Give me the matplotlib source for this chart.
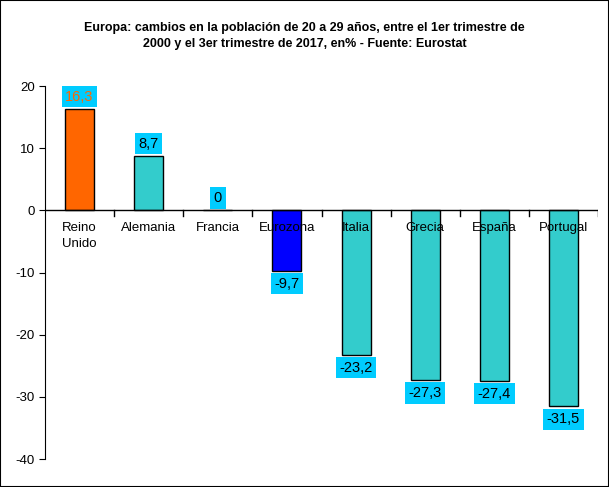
import matplotlib.pyplot as plt
import matplotlib.patches as mpatches

plt.rcParams["font.family"] = "Liberation Sans"
plt.rcParams["axes.unicode_minus"] = False

categories = ["Reino\nUnido", "Alemania", "Francia", "Eurozona", "Italia", "Grecia", "España", "Portugal"]
values = [16.3, 8.7, 0.0, -9.7, -23.2, -27.3, -27.4, -31.5]
labels = ["16,3", "8,7", "0", "-9,7", "-23,2", "-27,3", "-27,4", "-31,5"]
colors = ["#FF6600", "#33CCCC", "#33CCCC", "#0000FF", "#33CCCC", "#33CCCC", "#33CCCC", "#33CCCC"]
label_colors = ["#FF6600", "black", "black", "black", "black", "black", "black", "black"]

fig = plt.figure(figsize=(6.09, 4.87), dpi=100)
fig.patches.append(mpatches.Rectangle((0, 0), 1, 1, transform=fig.transFigure,
                                      fill=False, edgecolor="black", linewidth=1.5))
ax = fig.add_axes([45/609, 1-459/487, 553/609, 373/487])
x = list(range(len(values)))
ax.bar(x, values, width=0.42, color=colors, edgecolor="black", linewidth=1)
ax.set_xlim(-0.5, len(values)-0.5)
ax.set_ylim(-40, 20)
ax.set_yticks(range(-40, 21, 10))
ax.tick_params(axis="y", labelsize=9.5, direction="out", length=4)
for s in ["top", "right", "bottom"]:
    ax.spines[s].set_visible(False)
ax.axhline(0, color="black", linewidth=1)
ax.set_xticks([])
for b in range(1, len(values)+1):
    ax.plot([b-0.5, b-0.5], [0, -0.9], color="black", linewidth=1)
for i, (v, lab, lc, cat) in enumerate(zip(values, labels, label_colors, categories)):
    off = 2.0 if v >= 0 else -2.1
    ax.text(i, v+off, lab, ha="center", va="center", fontsize=10.5, color=lc,
            bbox=dict(boxstyle="square,pad=0.25", facecolor="#00CCFF", edgecolor="none"))
    ax.text(i, -1.9, cat, ha="center", va="top", fontsize=9.5, linespacing=1.4)
fig.text(0.5, 1-36/487, "Europa: cambios en la población de 20 a 29 años, entre el 1er trimestre de\n2000 y el 3er trimestre de 2017, en% - Fuente: Eurostat",
         ha="center", va="center", fontsize=9, fontweight="bold", linespacing=1.5)
fig.savefig("out.png", dpi=100)
